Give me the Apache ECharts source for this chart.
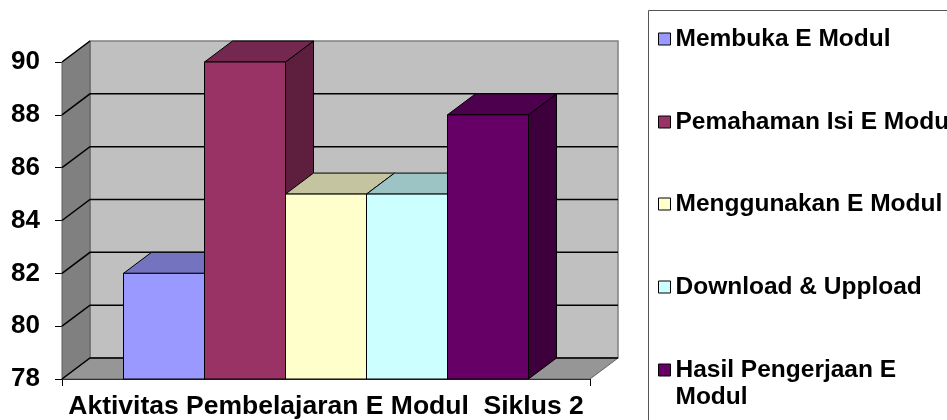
<!DOCTYPE html>
<html><head><meta charset="utf-8">
<script src="https://cdn.jsdelivr.net/npm/echarts@6/dist/echarts.min.js"></script>
<style>html,body{margin:0;padding:0;background:#fff}#c{width:947px;height:420px}</style>
</head><body><div id="c"></div>
<script>
// ---- data ----
const categories = ['Aktivitas Pembelajaran E Modul  Siklus 2'];
const seriesNames = ['Membuka E Modul', 'Pemahaman Isi E Modul', 'Menggunakan E Modul', 'Download & Uppload', 'Hasil Pengerjaan E Modul'];
const seriesValues = [82, 90, 85, 85, 88];
const yTicks = [78, 80, 82, 84, 86, 88, 90];

// ---- styles ----
const frontColors = ['#9999FF', '#993366', '#FFFFCC', '#CCFFFF', '#660066'];
const topColors = ['#7373C0', '#74284F', '#C4C4A0', '#9CC4C4', '#4D004D'];
const sideColors = ['#5C5C99', '#5E1F3F', '#99997A', '#7A9999', '#3D003D'];
const DX = 28, DY = -21;
const BAR_FRAC = 81 / 528;
const FONT = '"Liberation Sans", Arial, sans-serif';
const yMin = yTicks[0], yMax = yTicks[yTicks.length - 1];

function renderWalls(params, api) {
  const band = api.size([1, 0])[0];
  const cx = api.coord([0, yMin])[0];
  const xl = cx - band / 2, xr = cx + band / 2;
  const yb = api.coord([0, yMin])[1], yt = api.coord([0, yMax])[1];
  const ch = [];
  ch.push({ type: 'polygon', shape: { points: [[xl + DX, yt + DY], [xr + DX, yt + DY], [xr + DX, yb + DY], [xl + DX, yb + DY]] },
    style: { fill: '#C0C0C0', stroke: '#808080', lineWidth: 1.5 } });
  ch.push({ type: 'polygon', shape: { points: [[xl, yt], [xl + DX, yt + DY], [xl + DX, yb + DY], [xl, yb]] },
    style: { fill: '#808080', stroke: '#606060', lineWidth: 1 } });
  ch.push({ type: 'polygon', shape: { points: [[xl, yb], [xl + DX, yb + DY], [xr + DX, yb + DY], [xr, yb]] },
    style: { fill: '#969696', stroke: '#606060', lineWidth: 1 } });
  yTicks.forEach(function (v) {
    const y = api.coord([0, v])[1];
    const pts = v === yMax ? [[xl, y], [xl + DX, y + DY]] : [[xl, y], [xl + DX, y + DY], [xr + DX, y + DY]];
    ch.push({ type: 'polyline', shape: { points: pts }, style: { stroke: '#000', lineWidth: 1.5, fill: null } });
  });
  return { type: 'group', children: ch };
}

function makeBarRender(i) {
  return function (params, api) {
    const band = api.size([1, 0])[0];
    const p = api.coord([0, api.value(1)]);
    const base = api.coord([0, yMin])[1];
    const top = p[1];
    const bw = band * BAR_FRAC;
    const x0 = p[0] - bw * seriesValues.length / 2 + i * bw, x1 = x0 + bw;
    return { type: 'group', children: [
      { type: 'polygon', shape: { points: [[x1, top], [x1 + DX, top + DY], [x1 + DX, base + DY], [x1, base]] },
        style: { fill: sideColors[i], stroke: '#000', lineWidth: 1 } },
      { type: 'polygon', shape: { points: [[x0, top], [x0 + DX, top + DY], [x1 + DX, top + DY], [x1, top]] },
        style: { fill: topColors[i], stroke: '#000', lineWidth: 1 } },
      { type: 'rect', shape: { x: x0, y: top, width: bw, height: base - top },
        style: { fill: frontColors[i], stroke: '#000', lineWidth: 1 } }
    ] };
  };
}

const series = [{
  type: 'custom', name: '_walls', z: 1, silent: true,
  renderItem: renderWalls, data: [[0, yMin]]
}];
seriesNames.forEach(function (n, i) {
  series.push({ type: 'custom', name: n, z: 2 + i, renderItem: makeBarRender(i),
    itemStyle: { color: frontColors[i] }, data: [[0, seriesValues[i]]] });
});

const legendCenters = [39, 122, 204, 287, 370];
const legendText = { fontFamily: FONT, fontSize: 24.5, fontWeight: 'bold', color: '#000', lineHeight: 27 };
const legends = seriesNames.map(function (n, i) {
  const last = i === seriesNames.length - 1;
  return {
    data: [n], orient: 'vertical', left: 658, top: last ? legendCenters[i] - 40.5 : legendCenters[i] - 13.5,
    padding: 0, itemWidth: 12, itemHeight: 12, icon: 'rect', itemGap: 0, selectedMode: false,
    itemStyle: { borderColor: '#000', borderWidth: 1 },
    formatter: last ? function (name) { return '\n' + name.replace(/ (Modul)$/, '\n$1'); } : undefined,
    textStyle: legendText
  };
});

const chart = echarts.init(document.getElementById('c'), null, { renderer: 'canvas' });
chart.setOption({
  animation: false,
  backgroundColor: '#fff',
  grid: { left: 62, right: 357, top: 62, bottom: 40 },
  xAxis: {
    type: 'category', data: categories, boundaryGap: true,
    axisLine: { lineStyle: { color: '#000', width: 1 } },
    axisTick: { show: true, length: 7, lineStyle: { color: '#000' } },
    axisLabel: { margin: 14, color: '#000', fontFamily: FONT, fontSize: 26.5, fontWeight: 'bold' },
    splitLine: { show: false }
  },
  yAxis: {
    type: 'value', min: yMin, max: yMax, interval: 2,
    axisLine: { show: true, lineStyle: { color: '#000', width: 1 } },
    axisTick: { show: true, length: 7, lineStyle: { color: '#000' } },
    axisLabel: { margin: 22, color: '#000', fontFamily: FONT, fontSize: 26, fontWeight: 'bold' },
    splitLine: { show: false }
  },
  legend: legends,
  graphic: [{ type: 'rect', z: 0, shape: { x: 648.5, y: 10.5, width: 320, height: 430 },
    style: { fill: 'none', stroke: '#555', lineWidth: 1 } }],
  series: series
});
</script></body></html>
